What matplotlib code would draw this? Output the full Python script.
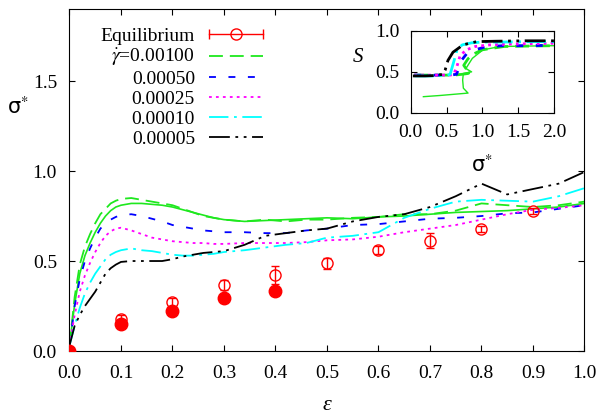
import numpy as np
import matplotlib
matplotlib.use("Agg")
import matplotlib.pyplot as plt
from matplotlib.lines import Line2D
from matplotlib.legend_handler import HandlerLine2D, HandlerTuple

plt.rcParams["font.family"] = ["Liberation Serif", "DejaVu Serif"]
plt.rcParams["font.size"] = 14
plt.rcParams["mathtext.fontset"] = "stix"
plt.rcParams["lines.scale_dashes"] = False

# stress-strain curves, one per shear rate
eps = [0, .01, .02, .03, .04, .05, .06, .07, .08, .09, .10,
       .12, .14, .16, .18, .20, .22, .24, .26, .28, .30,
       .34, .38, .42, .46, .50,
       .55, .60, .65, .70, .75, .80, .85, .90, .95, 1.0]

sig_100 = [0.03, 0.30, 0.48, 0.58, 0.65, 0.71, 0.76, 0.79, 0.82, 0.835, 0.845,
           0.85, 0.84, 0.83, 0.82, 0.81, 0.79, 0.77, 0.75, 0.74, 0.73,
           0.72, 0.73, 0.72, 0.73, 0.73,
           0.74, 0.745, 0.76, 0.76, 0.78, 0.82, 0.81, 0.80, 0.81, 0.83]
sig_100b = [0.03, 0.26, 0.43, 0.53, 0.60, 0.66, 0.71, 0.75, 0.78, 0.80, 0.81,
            0.82, 0.82, 0.815, 0.81, 0.80, 0.785, 0.77, 0.755, 0.74, 0.73,
            0.72, 0.725, 0.73, 0.735, 0.74,
            0.735, 0.745, 0.75, 0.76, 0.77, 0.775, 0.78, 0.79, 0.80, 0.82]
sig_050 = [0.03, 0.25, 0.40, 0.50, 0.57, 0.63, 0.68, 0.71, 0.73, 0.745, 0.755,
           0.76, 0.75, 0.735, 0.72, 0.70, 0.69, 0.68, 0.67, 0.665, 0.66,
           0.66, 0.655, 0.655, 0.67, 0.68,
           0.70, 0.705, 0.72, 0.735, 0.74, 0.75, 0.765, 0.77, 0.79, 0.81]
sig_025 = [0.03, 0.20, 0.33, 0.42, 0.49, 0.55, 0.60, 0.64, 0.665, 0.68, 0.685,
           0.67, 0.65, 0.63, 0.62, 0.61, 0.605, 0.60, 0.60, 0.595, 0.595,
           0.60, 0.60, 0.60, 0.605, 0.615,
           0.62, 0.635, 0.66, 0.68, 0.70, 0.73, 0.76, 0.785, 0.795, 0.81]
sig_010 = [0.03, 0.14, 0.24, 0.32, 0.38, 0.43, 0.47, 0.51, 0.535, 0.55, 0.56,
           0.57, 0.56, 0.555, 0.545, 0.535, 0.53, 0.53, 0.535, 0.54, 0.55,
           0.56, 0.575, 0.59, 0.60, 0.63,
           0.64, 0.66, 0.74, 0.79, 0.83, 0.84, 0.835, 0.83, 0.86, 0.905]
sig_005 = [0.03, 0.14, 0.20, 0.25, 0.29, 0.33, 0.38, 0.43, 0.46, 0.48, 0.495,
           0.50, 0.50, 0.50, 0.50, 0.51, 0.525, 0.535, 0.545, 0.55, 0.555,
           0.59, 0.64, 0.655, 0.67, 0.68,
           0.72, 0.745, 0.76, 0.80, 0.86, 0.93, 0.87, 0.90, 0.93, 0.995]

# equilibrium points
eq_eps = [0.0, 0.1, 0.2, 0.3, 0.4, 0.5, 0.6, 0.7, 0.8, 0.9]
eq_sig = [0.0, 0.18, 0.27, 0.367, 0.424, 0.487, 0.561, 0.613, 0.678, 0.779]
eq_err = [0.01, 0.02, 0.025, 0.03, 0.05, 0.03, 0.02, 0.04, 0.015, 0.015]
eq2_eps = [0.0, 0.1, 0.2, 0.3, 0.4]
eq2_sig = [0.0, 0.148, 0.22, 0.295, 0.333]

# order parameter S against stress (inset)
in_sig_100 = [0.05, 0.3, 0.6, 0.72, 0.80, 0.84, 0.78, 0.74, 0.80, 0.88, 1.0, 1.3, 1.6, 2.0]
in_s_100 = [0.46, 0.46, 0.46, 0.47, 0.48, 0.50, 0.53, 0.58, 0.66, 0.72, 0.77, 0.81, 0.815, 0.82]
in_sig_100b = [0.177, 0.4, 0.6, 0.80, 0.735, 0.725, 0.735, 0.85, 0.77, 0.86, 1.01, 1.25, 1.6, 2.0]
in_s_100b = [0.196, 0.21, 0.225, 0.24, 0.30, 0.40, 0.48, 0.50, 0.54, 0.665, 0.77, 0.81, 0.815, 0.82]
in_sig_050 = [0.05, 0.3, 0.55, 0.64, 0.66, 0.69, 0.78, 0.9, 1.06, 1.3, 1.6, 2.0]
in_s_050 = [0.46, 0.46, 0.46, 0.47, 0.52, 0.62, 0.72, 0.77, 0.81, 0.82, 0.82, 0.825]
in_sig_025 = [0.05, 0.3, 0.55, 0.60, 0.64, 0.69, 0.78, 0.9, 1.1, 1.4, 1.7, 2.0]
in_s_025 = [0.46, 0.46, 0.46, 0.47, 0.55, 0.70, 0.77, 0.81, 0.83, 0.84, 0.845, 0.85]
in_sig_010 = [0.05, 0.3, 0.5, 0.55, 0.60, 0.65, 0.72, 0.85, 1.0, 1.3, 1.7, 2.0]
in_s_010 = [0.45, 0.45, 0.455, 0.47, 0.62, 0.78, 0.83, 0.855, 0.865, 0.865, 0.87, 0.87]
in_sig_005 = [0.03, 0.2, 0.35, 0.45, 0.48, 0.52, 0.59, 0.73, 0.92, 1.2, 1.6, 2.0]
in_s_005 = [0.45, 0.45, 0.455, 0.47, 0.52, 0.64, 0.74, 0.83, 0.87, 0.875, 0.88, 0.88]

labels = [r"$\dot{\gamma}$=0.00100", "0.00050", "0.00025", "0.00010", "0.00005"]
colors = ["#1ee81e", "#0000ff", "#ff00ff", "#00ffff", "#000000"]
dashes = [(10, 5), (5, 9), (2, 3), (14, 4, 2, 4), (15, 4, 2, 4, 2, 4)]
main_curves = [sig_100, sig_050, sig_025, sig_010, sig_005]
inset_curves = [(in_sig_100, in_s_100), (in_sig_050, in_s_050), (in_sig_025, in_s_025),
                (in_sig_010, in_s_010), (in_sig_005, in_s_005)]

fig = plt.figure(figsize=(5.98, 4.16), dpi=100)
ax = fig.add_axes([0.1162, 0.1562, 0.8612, 0.8221])

ax.plot(eps, sig_100b, color=colors[0], lw=1.2)
lines = []
for y, lab, c, d in zip(main_curves, labels, colors, dashes):
    ln, = ax.plot(eps, y, color=c, lw=1.3, dashes=d, label=lab)
    lines.append(ln)

ax.errorbar(eq_eps, eq_sig, yerr=eq_err, fmt="o", color="red", mfc="none",
            ms=8, mew=1, elinewidth=1, capsize=3, capthick=1, zorder=5)
ax.plot(eq2_eps, eq2_sig, "o", color="red", ms=9, zorder=5)

ax.set_xlim(0, 1)
ax.set_ylim(0, 1.9)
ax.set_xticks(np.arange(0, 1.01, 0.1))
ax.set_yticks([0, 0.5, 1.0, 1.5])
ax.xaxis.set_major_formatter(plt.FormatStrFormatter("%.1f"))
ax.yaxis.set_major_formatter(plt.FormatStrFormatter("%.1f"))
ax.tick_params(direction="in", length=4, top=True, right=True, width=0.8)
ax.tick_params(axis="x", pad=10)
ax.tick_params(axis="y", pad=9)
fig.text(18 / 598, 1 - 107 / 416, "σ$^{*}$", family=["DejaVu Sans"],
         ha="center", va="center", fontsize=15)
fig.text(327 / 598, 1 - 405 / 416, "ε", style="italic", ha="center",
         va="center", fontsize=16)

# legend: text on the left, sample on the right
cap_line = Line2D([], [], color="red", lw=1, marker="|", ms=7, mew=1)
circ = Line2D([], [], color="red", ls="none", marker="o", mfc="none", ms=8, mew=1)
handles = [(cap_line, circ)] + lines
leg_labels = ["Equilibrium"] + labels
ax.legend(handles, leg_labels, loc="upper right", frameon=False,
          bbox_to_anchor=(263 / 598, 1 - 27 / 416), bbox_transform=fig.transFigure,
          markerfirst=False, handlelength=2.8, handletextpad=0.7,
          labelspacing=0.12, borderpad=0, borderaxespad=0,
          handler_map={cap_line: HandlerLine2D(numpoints=2, marker_pad=0),
                       tuple: HandlerTuple(ndivide=1)})

# inset
axi = fig.add_axes([0.6868, 0.7291, 0.2396, 0.1964])
axi.plot(in_sig_100b, in_s_100b, color=colors[0], lw=1)
for (xs, ys), c, d in zip(inset_curves, colors, dashes):
    axi.plot(xs, ys, color=c, lw=2, dashes=d)
axi.set_xlim(0, 2)
axi.set_ylim(0, 1)
axi.set_xticks([0, 0.5, 1.0, 1.5, 2.0])
axi.set_yticks([0, 0.5, 1.0])
axi.xaxis.set_major_formatter(plt.FormatStrFormatter("%.1f"))
axi.yaxis.set_major_formatter(plt.FormatStrFormatter("%.1f"))
axi.tick_params(direction="in", length=4, top=True, right=True, width=0.8)
axi.tick_params(axis="x", pad=8)
axi.tick_params(axis="y", pad=8)
fig.text(482 / 598, 1 - 165 / 416, "σ$^{*}$", family=["DejaVu Sans"],
         ha="center", va="center", fontsize=15)
fig.text(358 / 598, 1 - 57 / 416, "S", style="italic", ha="center",
         va="center", fontsize=15)

fig.savefig("out.png", dpi=100)
